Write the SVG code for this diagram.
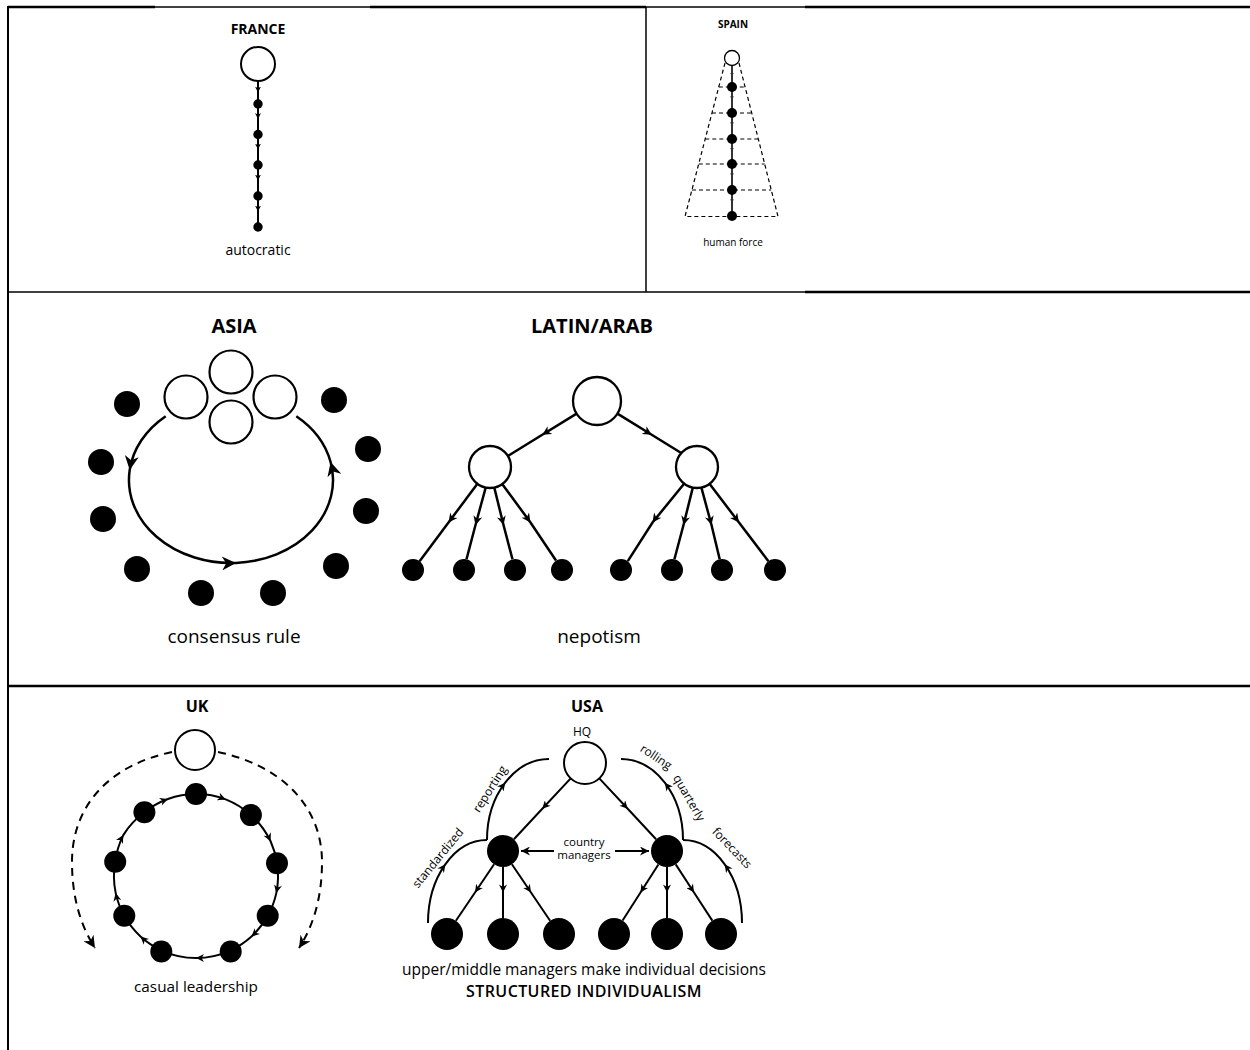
<svg xmlns="http://www.w3.org/2000/svg" width="1250" height="1050" viewBox="0 0 1250 1050">
<style>
text{font-family:"Open Sans","Noto Sans","Liberation Sans",sans-serif;fill:#000}
.t{font-weight:700;text-anchor:middle}
.c{text-anchor:middle}
.b{stroke:#000;fill:none}
.open{fill:#fff;stroke:#000}
.dot{fill:#000}
.ln{stroke:#000;fill:none}
</style>
<defs>
<marker id="aF" viewBox="0 0 10 10" refX="10" refY="5" markerWidth="6" markerHeight="6" orient="auto" markerUnits="userSpaceOnUse"><path d="M0,0 L10,5 L0,10 L3,5 z"/></marker>
<marker id="aS" viewBox="0 0 10 10" refX="10" refY="5" markerWidth="4" markerHeight="4" orient="auto" markerUnits="userSpaceOnUse"><path d="M0,0 L10,5 L0,10 L3,5 z" fill="#333"/></marker>
<marker id="aA" viewBox="0 0 10 10" refX="10" refY="5" markerWidth="17" markerHeight="14" orient="auto" markerUnits="userSpaceOnUse"><path d="M0,0 L10,5 L0,10 L3,5 z"/></marker>
<marker id="aM" viewBox="0 0 10 10" refX="10" refY="5" markerWidth="10" markerHeight="9" orient="auto" markerUnits="userSpaceOnUse"><path d="M0,0 L10,5 L0,10 L3,5 z"/></marker>
<marker id="aU" viewBox="0 0 10 10" refX="10" refY="5" markerWidth="9" markerHeight="8" orient="auto" markerUnits="userSpaceOnUse"><path d="M0,0 L10,5 L0,10 L3,5 z"/></marker>
<marker id="aD" viewBox="0 0 10 10" refX="10" refY="5" markerWidth="14" markerHeight="12" orient="auto" markerUnits="userSpaceOnUse"><path d="M0,0 L10,5 L0,10 L3,5 z"/></marker>
</defs>

<g id="table">
<line class="b" x1="8" y1="7" x2="155" y2="7" stroke-width="2.5"/>
<line class="b" x1="155" y1="7" x2="370" y2="7" stroke-width="1.3"/>
<line class="b" x1="370" y1="7" x2="646" y2="7" stroke-width="2.5"/>
<line class="b" x1="646" y1="7" x2="805" y2="7" stroke-width="1.3"/>
<line class="b" x1="805" y1="7" x2="1250" y2="7" stroke-width="2.5"/>
<line class="b" x1="8" y1="6" x2="8" y2="1050" stroke-width="2"/>
<line class="b" x1="646" y1="7" x2="646" y2="292" stroke-width="1.5"/>
<line class="b" x1="8" y1="292" x2="805" y2="292" stroke-width="1.5"/>
<line class="b" x1="805" y1="292" x2="1250" y2="292" stroke-width="2.5"/>
<line class="b" x1="8" y1="686" x2="1250" y2="686" stroke-width="2.5"/>
</g>

<!-- FRANCE -->
<g id="france-labels">
<text class="t" x="258" y="34" font-size="14">FRANCE</text>
<text class="c" x="258" y="255" font-size="14">autocratic</text>
</g>
<g id="france-connectors" class="ln" stroke-width="2">
<path d="M258,81 L258,92.5 L258,104" marker-mid="url(#aF)"/>
<path d="M258,104 L258,119 L258,134" marker-mid="url(#aF)"/>
<path d="M258,134 L258,149.5 L258,165" marker-mid="url(#aF)"/>
<path d="M258,165 L258,180.5 L258,196" marker-mid="url(#aF)"/>
<path d="M258,196 L258,211.5 L258,227" marker-mid="url(#aF)"/>
</g>
<g id="france-head"><circle class="open" cx="258" cy="64" r="17" stroke-width="2"/></g>
<g id="france-dots">
<circle class="dot" cx="258" cy="104" r="4.7"/>
<circle class="dot" cx="258" cy="134.5" r="4.7"/>
<circle class="dot" cx="258" cy="165" r="4.7"/>
<circle class="dot" cx="258" cy="196" r="4.7"/>
<circle class="dot" cx="258" cy="227" r="4.7"/>
</g>

<!-- SPAIN -->
<g id="spain-labels">
<text class="t" x="733" y="27.5" font-size="10">SPAIN</text>
<text class="c" x="733" y="245.5" font-size="10">human force</text>
</g>
<g id="spain-pyramid" class="ln" stroke-width="1.2" stroke-dasharray="4,3">
<path d="M725,63 L685,216.5 L778,216.5 L739,63"/>
<line x1="718.8" y1="87" x2="745.1" y2="87"/>
<line x1="712" y1="113" x2="751.7" y2="113"/>
<line x1="705.3" y1="139" x2="758.2" y2="139"/>
<line x1="698.8" y1="164" x2="764.6" y2="164"/>
<line x1="692" y1="190" x2="771.2" y2="190"/>
</g>
<g id="spain-connectors" class="ln" stroke-width="1.6" stroke="#222">
<path d="M732,65.5 L732,76.5 L732,87" marker-mid="url(#aS)"/>
<path d="M732,87 L732,100 L732,113" marker-mid="url(#aS)"/>
<path d="M732,113 L732,126 L732,139" marker-mid="url(#aS)"/>
<path d="M732,139 L732,151.5 L732,164" marker-mid="url(#aS)"/>
<path d="M732,164 L732,177 L732,190" marker-mid="url(#aS)"/>
<path d="M732,190 L732,203 L732,216" marker-mid="url(#aS)"/>
</g>
<g id="spain-head"><circle class="open" cx="732" cy="58" r="7.5" stroke-width="1.3"/></g>
<g id="spain-dots">
<circle class="dot" cx="732" cy="87" r="5"/>
<circle class="dot" cx="732" cy="113" r="5"/>
<circle class="dot" cx="732" cy="139" r="5"/>
<circle class="dot" cx="732" cy="164" r="5"/>
<circle class="dot" cx="732" cy="190" r="5"/>
<circle class="dot" cx="732" cy="216" r="5"/>
</g>

<!-- ASIA -->
<g id="asia-labels">
<text class="t" x="234" y="333" font-size="20">ASIA</text>
<text class="c" x="234" y="643" font-size="19">consensus rule</text>
</g>
<g id="asia-leaders">
<circle class="open" cx="231" cy="372" r="21.5" stroke-width="2.2"/>
<circle class="open" cx="186" cy="397" r="21.5" stroke-width="2.2"/>
<circle class="open" cx="275" cy="397" r="21.5" stroke-width="2.2"/>
<circle class="open" cx="231" cy="422" r="21.5" stroke-width="2.2"/>
</g>
<g id="asia-connectors" class="ln" stroke-width="2.5">
<path d="M165.7,416.2 A102,83 0 0 0 129.7,470 A102,83 0 0 0 236,562.9 A102,83 0 0 0 330.6,462 A102,83 0 0 0 296.3,416.2" marker-mid="url(#aA)"/>
</g>
<g id="asia-members">
<circle class="dot" cx="127" cy="404" r="13"/>
<circle class="dot" cx="334" cy="400" r="13"/>
<circle class="dot" cx="101" cy="462" r="13"/>
<circle class="dot" cx="368" cy="449" r="13"/>
<circle class="dot" cx="103" cy="519" r="13"/>
<circle class="dot" cx="366" cy="511" r="13"/>
<circle class="dot" cx="137" cy="569" r="13"/>
<circle class="dot" cx="336" cy="566" r="13"/>
<circle class="dot" cx="201" cy="593" r="13"/>
<circle class="dot" cx="273" cy="593" r="13"/>
</g>

<!-- LATIN/ARAB -->
<g id="latin-labels">
<text class="t" x="592" y="333" font-size="20">LATIN/ARAB</text>
<text class="c" x="599" y="643" font-size="19">nepotism</text>
</g>
<g id="latin-connectors" class="ln" stroke-width="2.5">
<path d="M576.6,413.6 L542.3,434.8 L507.9,456" marker-mid="url(#aM)"/>
<path d="M617.4,413.6 L651.7,434.8 L686.1,456" marker-mid="url(#aM)"/>
<path d="M477.4,483.8 L448.5,522.5 L419.6,561.2" marker-mid="url(#aM)"/>
<path d="M485.7,487.6 L475.5,525 L466.5,559.3" marker-mid="url(#aM)"/>
<path d="M494.3,487.6 L503.5,525 L512.5,559.3" marker-mid="url(#aM)"/>
<path d="M502,483.8 L530.5,522.5 L556,560.5" marker-mid="url(#aM)"/>
<path d="M684.5,483.3 L652.5,522.5 L627.8,561.2" marker-mid="url(#aM)"/>
<path d="M692.8,487.6 L683.5,525 L674.4,559.3" marker-mid="url(#aM)"/>
<path d="M701.4,487.6 L711.5,525 L719.7,559.3" marker-mid="url(#aM)"/>
<path d="M709.5,483.8 L739,522.5 L768.4,561.2" marker-mid="url(#aM)"/>
</g>
<g id="latin-nodes">
<circle class="open" cx="597" cy="401" r="24" stroke-width="2.3"/>
<circle class="open" cx="490" cy="467" r="21" stroke-width="2.3"/>
<circle class="open" cx="697" cy="467" r="21" stroke-width="2.3"/>
<circle class="dot" cx="413" cy="570" r="11"/>
<circle class="dot" cx="464" cy="570" r="11"/>
<circle class="dot" cx="515" cy="570" r="11"/>
<circle class="dot" cx="562" cy="570" r="11"/>
<circle class="dot" cx="621" cy="570" r="11"/>
<circle class="dot" cx="672" cy="570" r="11"/>
<circle class="dot" cx="722" cy="570" r="11"/>
<circle class="dot" cx="775" cy="570" r="11"/>
</g>

<!-- UK -->
<g id="uk-labels">
<text class="t" x="197" y="711.5" font-size="16">UK</text>
<text class="c" x="196" y="992" font-size="15.3">casual leadership</text>
</g>
<g id="uk-connectors" class="ln" stroke-width="2">
<path d="M172,752 C110,765 72,805 72,862 C72,900 82,928 95,948" stroke-dasharray="8,6" marker-end="url(#aD)"/>
<path d="M218,752 C280,765 322,805 322,862 C322,900 312,928 299,948" stroke-dasharray="8,6" marker-end="url(#aD)"/>
<path d="M196,794 A82,82 0 0 1 225.7,799.4 A82,82 0 0 1 250.9,815.1" marker-mid="url(#aU)"/>
<path d="M250.9,815.1 A82,82 0 0 1 270.6,841.3 A82,82 0 0 1 277,863.2" marker-mid="url(#aU)"/>
<path d="M277,863.2 A82,82 0 0 1 276.3,893.1 A82,82 0 0 1 267.7,915.8" marker-mid="url(#aU)"/>
<path d="M267.7,915.8 A82,82 0 0 1 251.5,936.5 A82,82 0 0 1 230.7,950.3" marker-mid="url(#aU)"/>
<path d="M230.7,950.3 A82,82 0 0 1 196,958 A82,82 0 0 1 161.3,950.3" marker-mid="url(#aU)"/>
<path d="M161.3,950.3 A82,82 0 0 1 140.5,936.5 A82,82 0 0 1 124.3,915.8" marker-mid="url(#aU)"/>
<path d="M124.3,915.8 A82,82 0 0 1 115.7,893.1 A82,82 0 0 1 115.2,861.8" marker-mid="url(#aU)"/>
<path d="M115.2,861.8 A82,82 0 0 1 123.3,835.1 A82,82 0 0 1 144.4,812.3" marker-mid="url(#aU)"/>
<path d="M144.4,812.3 A82,82 0 0 1 167.9,799 A82,82 0 0 1 196,794" marker-mid="url(#aU)"/>
</g>
<g id="uk-nodes">
<circle class="open" cx="195" cy="750" r="20" stroke-width="2"/>
<circle class="dot" cx="196" cy="794" r="11"/>
<circle class="dot" cx="250.9" cy="815.1" r="11"/>
<circle class="dot" cx="277" cy="863.2" r="11"/>
<circle class="dot" cx="267.7" cy="915.8" r="11"/>
<circle class="dot" cx="230.7" cy="951.5" r="11"/>
<circle class="dot" cx="161.3" cy="951.5" r="11"/>
<circle class="dot" cx="124.3" cy="915.8" r="11"/>
<circle class="dot" cx="115.2" cy="861.8" r="11"/>
<circle class="dot" cx="144.4" cy="812.3" r="11"/>
</g>

<!-- USA -->
<g id="usa-labels">
<text class="t" x="587" y="711.5" font-size="16">USA</text>
<text class="c" x="582" y="735.5" font-size="12">HQ</text>
<text class="c" x="584" y="846" font-size="11.5">country</text>
<text class="c" x="584" y="858.5" font-size="11.5">managers</text>
<text class="c" transform="translate(490,789) rotate(-57.6)" y="4" font-size="12">reporting</text>
<text class="c" transform="translate(438,858) rotate(-50.7)" y="4" font-size="12">standardized</text>
<text class="c" transform="translate(656,757) rotate(33.5)" y="4" font-size="12">rolling</text>
<text class="c" transform="translate(689,798) rotate(60)" y="4" font-size="12">quarterly</text>
<text class="c" transform="translate(732,848) rotate(46.3)" y="4" font-size="12">forecasts</text>
<text class="c" x="584" y="975" font-size="15.5">upper/middle managers make individual decisions</text>
<text class="c" x="584" y="997" font-size="16" font-weight="600" letter-spacing="0.4">STRUCTURED INDIVIDUALISM</text>
</g>
<g id="usa-connectors" class="ln" stroke-width="2">
<path d="M570.7,778.4 L542.3,808.8 L513.9,839.3" marker-mid="url(#aU)"/>
<path d="M599.3,778.4 L627.7,808.8 L656.1,839.3" marker-mid="url(#aU)"/>
<path d="M494.1,864.3 L475,892.5 L455.9,920.7" marker-mid="url(#aU)"/>
<path d="M503,867 L503,892.5 L503,918" marker-mid="url(#aU)"/>
<path d="M511.9,864.3 L531,892.5 L550.1,920.7" marker-mid="url(#aU)"/>
<path d="M658.4,864.5 L640.5,892.5 L622.6,920.5" marker-mid="url(#aU)"/>
<path d="M667,867 L667,892.5 L667,918" marker-mid="url(#aU)"/>
<path d="M675.7,864.4 L694,892.5 L712.3,920.6" marker-mid="url(#aU)"/>
<path d="M554,851 L521,851" marker-end="url(#aM)"/>
<path d="M615,851 L649,851" marker-end="url(#aM)"/>
<path d="M487,840 A62,81 0 0 1 505.2,782.7 A62,81 0 0 1 549,759" marker-mid="url(#aU)"/>
<path d="M428,923 A59,83 0 0 1 445.3,864.3 A59,83 0 0 1 487,840" marker-mid="url(#aU)"/>
<path d="M683,840 A62,81 0 0 0 664.8,782.7 A62,81 0 0 0 621,759" marker-mid="url(#aU)"/>
<path d="M742,923 A59,83 0 0 0 724.7,864.3 A59,83 0 0 0 683,840" marker-mid="url(#aU)"/>
</g>
<g id="usa-nodes">
<circle class="open" cx="585" cy="763" r="21" stroke-width="2"/>
<circle class="dot" cx="503" cy="851" r="16"/>
<circle class="dot" cx="667" cy="851" r="16"/>
<circle class="dot" cx="447" cy="934" r="16"/>
<circle class="dot" cx="503" cy="934" r="16"/>
<circle class="dot" cx="559" cy="934" r="16"/>
<circle class="dot" cx="614" cy="934" r="16"/>
<circle class="dot" cx="667" cy="934" r="16"/>
<circle class="dot" cx="721" cy="934" r="16"/>
</g>
</svg>
